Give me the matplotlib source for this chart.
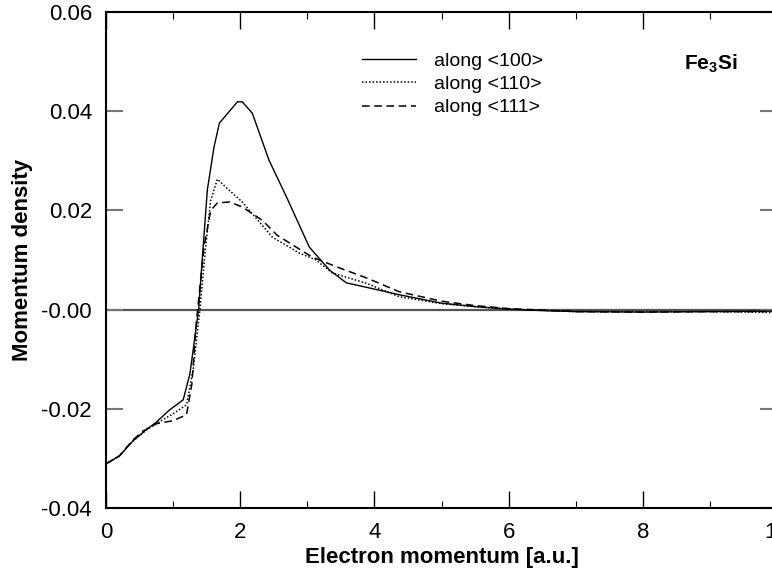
import matplotlib.pyplot as plt
import matplotlib.ticker as mticker
import numpy as np

plt.rcParams['font.family'] = ['Liberation Sans', 'DejaVu Sans']
plt.rcParams['mathtext.fontset'] = 'custom'
plt.rcParams['mathtext.bf'] = 'Liberation Sans:bold'
plt.rcParams['mathtext.rm'] = 'Liberation Sans'

# Momentum density curves
p_100 = [0.0, 0.2, 0.4, 0.6, 0.75, 0.94, 1.15, 1.25, 1.38, 1.45, 1.51, 1.61, 1.69,
         1.79, 1.96, 2.03, 2.18, 2.43, 2.69, 3.03, 3.33, 3.58, 3.88, 4.37, 5.0,
         5.5, 6.0, 6.5, 7.0, 8.0, 9.0, 10.0]
rho_100 = [-0.0311, -0.0295, -0.0265, -0.0242, -0.0227, -0.0203, -0.0182, -0.0130,
           0.0, 0.0130, 0.0241, 0.0328, 0.0376, 0.0392, 0.0419, 0.0419, 0.0396,
           0.0301, 0.0227, 0.0126, 0.0080, 0.0054, 0.0045, 0.0030, 0.0013,
           0.0006, 0.0001, -0.0002, -0.0004, -0.0005, -0.0004, -0.0003]

p_110 = [0.0, 0.2, 0.4, 0.6, 0.75, 1.0, 1.2, 1.3, 1.4, 1.48, 1.56, 1.66, 1.8,
         2.03, 2.48, 2.88, 3.13, 3.37, 3.88, 4.37, 5.0, 5.5, 6.0, 7.0, 8.0,
         9.0, 10.0]
rho_110 = [-0.0311, -0.0295, -0.0265, -0.0243, -0.0230, -0.0210, -0.0192, -0.0120,
           0.0, 0.0120, 0.0220, 0.0263, 0.0245, 0.0217, 0.0146, 0.0114, 0.0100,
           0.0074, 0.0053, 0.0026, 0.0012, 0.0006, 0.0001, -0.0004, -0.0004,
           -0.0004, -0.0006]

p_111 = [0.0, 0.2, 0.4, 0.55, 0.75, 1.0, 1.2, 1.28, 1.34, 1.46, 1.56, 1.66, 1.84,
         2.03, 2.33, 2.55, 3.07, 3.48, 3.88, 4.37, 5.0, 5.5, 6.0, 7.0, 8.0,
         9.0, 10.0]
rho_111 = [-0.0311, -0.0295, -0.0263, -0.0245, -0.0230, -0.0224, -0.0212, -0.0150,
           -0.0035, 0.0126, 0.0200, 0.0215, 0.0217, 0.0207, 0.0180, 0.0150,
           0.0106, 0.0084, 0.0064, 0.0036, 0.0017, 0.0008, 0.0002, -0.0004,
           -0.0005, -0.0004, -0.0004]

labels = ['along <100>', 'along <110>', 'along <111>']
ytick_vals = [-0.04, -0.02, 0.0, 0.02, 0.04, 0.06]
ytick_text = ['-0.04', '-0.02', '-0.00', '0.02', '0.04', '0.06']

fig = plt.figure(figsize=(7.72, 5.76), dpi=100)
ax = fig.add_axes([106 / 772, 68 / 576, 671 / 772, 496 / 576])

ax.axhline(0, color='#555555', lw=1.6, zorder=1)
ax.plot(p_100, rho_100, color='black', lw=1.0, label=labels[0])
ax.plot(p_110, rho_110, color='black', lw=1.1, linestyle=(0, (1, 1.3)), label=labels[1])
ax.plot(p_111, rho_111, color='black', lw=1.1, linestyle=(0, (5, 3)), label=labels[2])

ax.set_xlim(0, 10)
ax.set_ylim(-0.04, 0.06)
ax.set_xticks([0, 2, 4, 6, 8, 10])
ax.set_xticks([1, 3, 5, 7, 9], minor=True)
ax.set_yticks(ytick_vals)
ax.yaxis.set_major_formatter(mticker.FixedFormatter(ytick_text))
ax.tick_params(which='major', direction='in', length=12, width=1.0,
               top=True, right=True, labelsize=16, pad=10)
ax.tick_params(axis='y', which='major', color='#777777', width=1.5)
ax.tick_params(which='minor', direction='in', length=5, width=0.8, top=True)
ax.tick_params(axis='x', which='major', pad=10)
for s in ax.spines.values():
    s.set_linewidth(1.5)

ax.set_xlabel('Electron momentum [a.u.]', fontsize=16, fontweight='bold', labelpad=3)
ax.set_ylabel('Momentum density', fontsize=16, fontweight='bold', labelpad=6)

ax.text(684, 576 - 70, r'$\mathbf{Fe_3Si}$', transform=None, fontsize=15,
        ha='left', va='baseline')

leg = ax.legend(loc='upper left', bbox_to_anchor=(362 / 772, 1 - 52 / 576),
                bbox_transform=fig.transFigure, frameon=False, fontsize=14,
                handlelength=2.8, handletextpad=0.9, labelspacing=0.3,
                borderpad=0, borderaxespad=0)

fig.savefig('out.png', dpi=100)
